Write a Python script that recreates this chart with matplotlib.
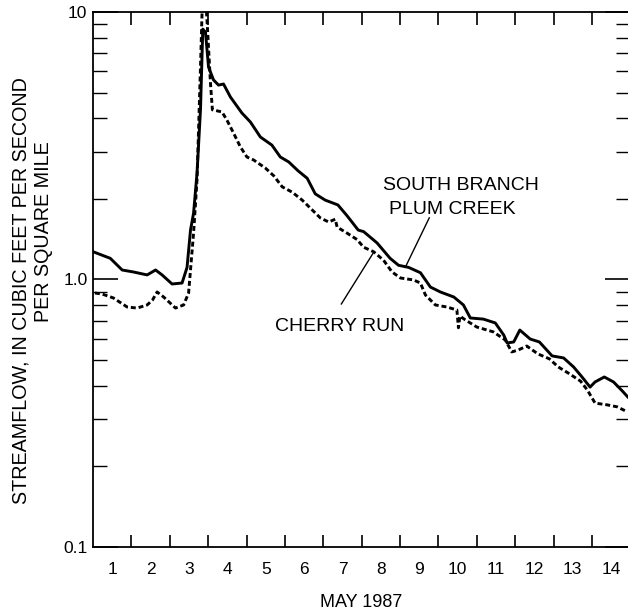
import matplotlib
matplotlib.use("Agg")
import matplotlib.pyplot as plt
from matplotlib.ticker import FixedLocator, NullFormatter

# day of month (May 1 00:00 = 1.0) and streamflow, cubic feet per second per square mile
plum_day = [1.0, 1.45, 1.76, 2.05, 2.41, 2.63, 2.80, 3.06, 3.32, 3.45, 3.54, 3.62, 3.71, 3.80, 3.86,
	3.93, 4.01, 4.14, 4.27, 4.40, 4.58, 4.88, 5.10, 5.36, 5.66, 5.88, 6.10, 6.34, 6.58, 6.79,
	7.05, 7.38, 7.62, 7.91, 8.05, 8.40, 8.74, 8.96, 9.22, 9.53, 9.79, 10.05, 10.40, 10.65, 10.83,
	11.17, 11.48, 11.70, 11.79, 11.96, 12.12, 12.39, 12.63, 12.96, 13.26, 13.52, 13.74, 13.95, 14.08,
	14.32, 14.56, 14.79, 14.93]
plum_flow = [1.27, 1.20, 1.085, 1.067, 1.04, 1.085, 1.04, 0.962, 0.97, 1.11, 1.53, 1.77, 2.50, 4.31, 8.63,
	8.41, 6.22, 5.57, 5.33, 5.38, 4.81, 4.19, 3.88, 3.41, 3.18, 2.87, 2.75, 2.55, 2.39, 2.09,
	1.98, 1.90, 1.73, 1.53, 1.51, 1.37, 1.20, 1.13, 1.11, 1.06, 0.937, 0.898, 0.86, 0.803, 0.718,
	0.711, 0.688, 0.62, 0.579, 0.584, 0.647, 0.599, 0.584, 0.518, 0.509, 0.471, 0.432, 0.396, 0.414,
	0.432, 0.414, 0.383, 0.364]

cherry_day = [1.05, 1.23, 1.53, 1.89, 2.15, 2.41, 2.55, 2.67, 2.84, 3.15, 3.36, 3.49, 3.62, 3.71, 3.80,
	3.85, 3.94, 3.98, 4.06, 4.11, 4.36, 4.49, 4.66, 4.84, 5.01, 5.18, 5.49, 5.71, 5.93, 6.19,
	6.45, 6.71, 6.92, 7.14, 7.31, 7.36, 7.62, 7.88, 8.05, 8.31, 8.57, 8.79, 9.01, 9.35, 9.53,
	9.66, 9.92, 10.22, 10.48, 10.52, 10.56, 10.70, 11.00, 11.43, 11.74, 11.91, 12.08, 12.30, 12.59, 12.89,
	13.12, 13.38, 13.70, 13.88, 14.08, 14.39, 14.66, 14.92]
cherry_flow = [0.89, 0.883, 0.853, 0.789, 0.782, 0.803, 0.838, 0.898, 0.86, 0.782, 0.803, 0.89, 1.49, 2.36, 6.22,
	11.0, 11.0, 8.79, 5.43, 4.31, 4.23, 3.94, 3.53, 3.13, 2.87, 2.80, 2.61, 2.44, 2.22, 2.12,
	1.98, 1.82, 1.70, 1.64, 1.68, 1.57, 1.49, 1.41, 1.32, 1.27, 1.18, 1.067, 1.013, 0.996, 0.97,
	0.875, 0.803, 0.789, 0.769, 0.66, 0.73, 0.706, 0.664, 0.637, 0.594, 0.536, 0.545, 0.564, 0.527, 0.505,
	0.471, 0.447, 0.417, 0.386, 0.345, 0.340, 0.334, 0.320]

day_labels = [str(d) for d in range(1, 15)]
y_ticks = [0.1, 1.0, 10]
y_tick_labels = ["0.1", "1.0", "10"]

plt.rcParams['font.family'] = ['Liberation Sans', 'DejaVu Sans']

def main():

	fig = plt.figure(figsize=(6.28, 6.15), dpi=100)
	# right spine sits just past the picture edge, like the scanned figure
	ax = fig.add_axes([0.1481, 0.1106, 0.8557, 0.8699])

	ax.plot(plum_day, plum_flow, color='black', lw=2.1, solid_joinstyle='round')
	ax.plot(cherry_day, cherry_flow, color='black', lw=2.1, linestyle=(0, (1.7, 1.0)))

	ax.set_yscale('log')
	ax.set_ylim(0.1, 10)
	ax.set_xlim(1, 15)

	ax.set_yticks(y_ticks)
	ax.set_yticklabels(y_tick_labels)
	ax.yaxis.set_minor_formatter(NullFormatter())

	# ticks on day boundaries, labels in the middle of each day
	ax.xaxis.set_major_locator(FixedLocator(list(range(2, 15))))
	ax.xaxis.set_major_formatter(NullFormatter())
	ax.xaxis.set_minor_locator(FixedLocator([d + 0.5 for d in range(1, 15)]))
	ax.set_xticklabels(day_labels, minor=True)

	ax.tick_params(axis='x', which='major', direction='in', length=9, width=1.2,
		top=True, bottom=True)
	ax.tick_params(axis='x', which='minor', length=0, pad=11, labelsize=12.5)
	ax.tick_params(axis='y', which='major', direction='in', length=18, width=1.2,
		left=True, right=True, labelsize=12.5, pad=4)
	ax.tick_params(axis='y', which='minor', direction='in', length=10, width=1.0,
		left=True, right=True)

	for s in ax.spines.values():
		s.set_linewidth(1.3)

	fig.text(0.5748, 0.021, "MAY 1987", ha='center', va='center', fontsize=13)

	fig.text(0.0334, 0.528, "STREAMFLOW, IN CUBIC FEET PER SECOND", rotation=90,
		ha='center', va='center', fontsize=14.2)
	fig.text(0.0685, 0.623, "PER SQUARE MILE", rotation=90,
		ha='center', va='center', fontsize=14.2)

	ax.text(10.59, 2.24, "SOUTH BRANCH", ha='center', va='center', fontsize=14)
	ax.text(10.37, 1.82, "PLUM CREEK", ha='center', va='center', fontsize=14)
	ax.plot([9.76, 9.135], [1.70, 1.11], color='black', lw=1.0)

	ax.text(7.42, 0.67, "CHERRY RUN", ha='center', va='center', fontsize=14)
	ax.plot([7.47, 8.30], [0.81, 1.256], color='black', lw=1.0)

	fig.savefig("out.png", dpi=100)

if __name__ == "__main__":
	main()
